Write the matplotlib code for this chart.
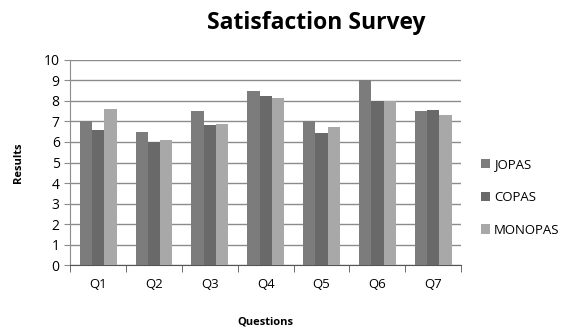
import matplotlib.pyplot as plt
import numpy as np

questions = ["Q1", "Q2", "Q3", "Q4", "Q5", "Q6", "Q7"]
jopas = [7.0, 6.5, 7.5, 8.5, 7.0, 9.0, 7.5]
copas = [6.6, 6.0, 6.85, 8.25, 6.45, 8.0, 7.55]
monopas = [7.6, 6.1, 6.9, 8.15, 6.75, 8.0, 7.3]
series_names = ["JOPAS", "COPAS", "MONOPAS"]
colors = ["#7c7c7c", "#696969", "#a8a8a8"]

plt.rcParams["font.family"] = ["Open Sans", "DejaVu Sans"]

fig = plt.figure(figsize=(5.75, 3.33), dpi=100)
ax = fig.add_axes([0.122, 0.204, 0.680, 0.616])

x = np.arange(len(questions))
w = 0.22
for i, (vals, name, c) in enumerate(zip([jopas, copas, monopas], series_names, colors)):
    ax.bar(x + (i - 1) * w, vals, w, color=c, label=name, zorder=3)

ax.set_xlim(-0.5, len(questions) - 0.5)
ax.set_ylim(0, 10)
ax.set_yticks(range(0, 11))
ax.yaxis.grid(True, color="#8c8c8c", linewidth=1.0, zorder=0)
ax.set_xticks(x)
ax.set_xticklabels(questions, fontsize=9.5)
ax.set_xticks(np.arange(-0.5, len(questions)), minor=True)
ax.tick_params(axis="x", which="major", length=0, pad=9)
ax.tick_params(axis="x", which="minor", length=5, color="#555555")
ax.tick_params(axis="y", length=4, color="#8c8c8c", labelsize=10)

for s in ["top", "right"]:
    ax.spines[s].set_visible(False)
ax.spines["left"].set_color("#8c8c8c")
ax.spines["bottom"].set_color("#555555")

ax.set_ylabel("Results", fontsize=8, fontweight="bold", labelpad=14)
ax.set_xlabel("Questions", fontsize=8, fontweight="bold", labelpad=19)
fig.text(0.55, 0.93, "Satisfaction Survey", ha="center", va="center",
         fontsize=16.5, fontweight="bold")

ax.legend(loc="center left", bbox_to_anchor=(1.02, 0.33), frameon=False,
          fontsize=9.5, handlelength=0.7, handleheight=0.7, handletextpad=0.3,
          labelspacing=1.5)

fig.savefig("out.png", dpi=100)
